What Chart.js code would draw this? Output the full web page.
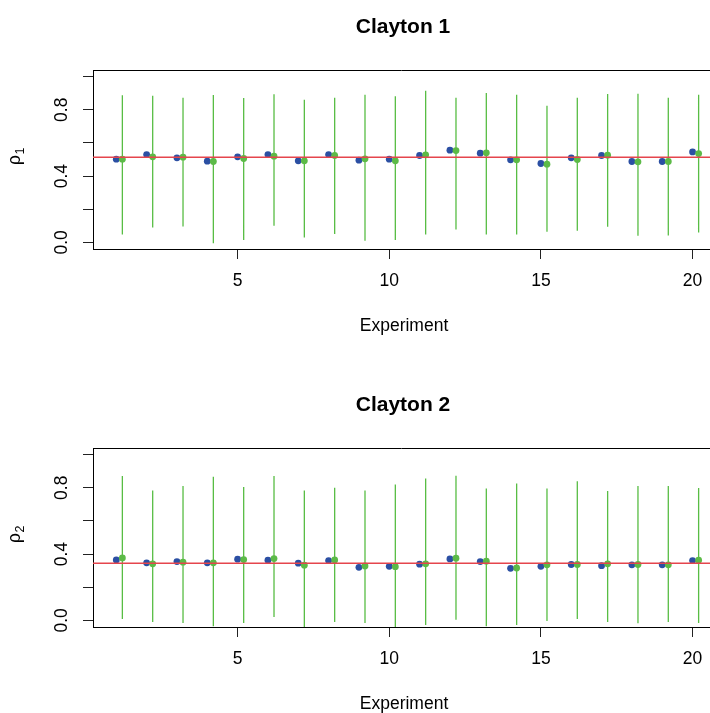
<!DOCTYPE html>
<html>
<head>
<meta charset="utf-8">
<script src="https://cdn.jsdelivr.net/npm/chart.js@4.4.1/dist/chart.umd.min.js"></script>
<style>
  html, body { margin: 0; padding: 0; background: #fff; overflow: hidden; }
  #wrap { position: relative; width: 710px; height: 713px; }
  canvas { position: absolute; left: 0; }
  #c1 { top: 0; }
  #c2 { top: 378px; }
</style>
</head>
<body>
<div id="wrap">
  <canvas id="c1" width="710" height="378"></canvas>
  <canvas id="c2" width="710" height="335"></canvas>
</div>
<script>
// ---------- data ----------
const experiments = [1,2,3,4,5,6,7,8,9,10,11,12,13,14,15,16,17,18,19,20];
const xTicks = [5, 10, 15, 20];
const yTicks = [0.0, 0.2, 0.4, 0.6, 0.8, 1.0];
const yTickLabels = ['0.0', '', '0.4', '', '0.8', ''];

const panelTitles = ['Clayton 1', 'Clayton 2'];
const xAxisTitle = 'Experiment';
const yAxisSymbols = ['ρ', 'ρ'];
const yAxisSubscripts = ['1', '2'];

const rho1True = 0.514;
const rho1Blue  = [0.502,0.530,0.510,0.490,0.516,0.530,0.492,0.530,0.496,0.502,0.524,0.556,0.538,0.498,0.476,0.510,0.524,0.488,0.488,0.546];
const rho1Green = [0.502,0.516,0.514,0.488,0.506,0.520,0.492,0.524,0.504,0.492,0.528,0.554,0.540,0.498,0.472,0.500,0.526,0.486,0.488,0.536];
const rho1Low   = [0.048,0.090,0.096,-0.006,0.014,0.100,0.030,0.050,0.010,0.014,0.048,0.078,0.048,0.048,0.064,0.070,0.094,0.040,0.042,0.060];
const rho1High  = [0.887,0.885,0.873,0.889,0.871,0.893,0.861,0.873,0.891,0.881,0.915,0.873,0.901,0.891,0.825,0.873,0.895,0.897,0.873,0.891];

const rho2True = 0.345;
const rho2Blue  = [0.365,0.347,0.355,0.347,0.369,0.363,0.345,0.361,0.320,0.326,0.339,0.371,0.355,0.314,0.326,0.337,0.330,0.335,0.335,0.361];
const rho2Green = [0.377,0.341,0.351,0.347,0.367,0.373,0.333,0.365,0.328,0.324,0.341,0.375,0.357,0.316,0.335,0.337,0.341,0.337,0.335,0.363];
const rho2Low   = [0.008,-0.010,-0.016,-0.036,-0.016,0.020,-0.050,-0.010,-0.016,-0.045,-0.028,0.004,-0.036,-0.028,-0.004,0.008,-0.010,-0.018,-0.010,-0.016];
const rho2High  = [0.871,0.784,0.810,0.867,0.804,0.871,0.784,0.800,0.784,0.820,0.856,0.873,0.796,0.826,0.796,0.840,0.780,0.810,0.810,0.798];

// ---------- styling / layout ----------
const FONT = "'Liberation Sans', Arial, Helvetica, sans-serif";
const BLUE = '#2b4fa3';
const GREEN_PT = '#5cba47';
const GREEN_LN = '#58bd44';
const RED = '#e5454d';
const X_MIN = 0.232, X_MAX = 20.575;
const Y_MIN = -0.04, Y_MAX = 1.04;
const GREEN_OFFSET = 0.2;

const rPlugin = {
  id: 'rDecor',
  afterDraw(chart, args, opts) {
    const ctx = chart.ctx;
    const a = chart.chartArea;
    ctx.save();
    // top border of the box (right side falls outside the picture)
    ctx.strokeStyle = '#000';
    ctx.lineWidth = 1;
    ctx.beginPath();
    ctx.moveTo(a.left, Math.round(a.top) + 0.5);
    ctx.lineTo(chart.width, Math.round(a.top) + 0.5);
    ctx.stroke();

    ctx.fillStyle = '#000';
    // title
    ctx.font = 'bold 21px ' + FONT;
    ctx.textAlign = 'center';
    ctx.textBaseline = 'alphabetic';
    ctx.fillText(opts.title, 403, 33);
    // x axis title
    ctx.font = '17.5px ' + FONT;
    ctx.fillText(opts.xTitle, 404, 331);
    // y axis title (rho with subscript), rotated
    ctx.translate(20, (a.top + a.bottom) / 2 - 3);
    ctx.rotate(-Math.PI / 2);
    ctx.textAlign = 'left';
    ctx.font = '17.5px ' + FONT;
    const w1 = ctx.measureText(opts.ySym).width;
    ctx.font = '12.5px ' + FONT;
    const w2 = ctx.measureText(opts.ySub).width;
    const start = -(w1 + w2) / 2;
    ctx.font = '17.5px ' + FONT;
    ctx.fillText(opts.ySym, start, 0);
    ctx.font = '12.5px ' + FONT;
    ctx.fillText(opts.ySub, start + w1 + 0.5, 3.5);
    ctx.restore();
  }
};

function makeChart(canvasId, idx, blue, green, low, high, trueVal, bottomPad) {
  const bluePts = experiments.map((e, i) => ({ x: e, y: blue[i] }));
  const greenPts = experiments.map((e, i) => ({ x: e + GREEN_OFFSET, y: green[i] }));
  const bars = [];
  experiments.forEach((e, i) => {
    bars.push({ x: e + GREEN_OFFSET, y: low[i] });
    bars.push({ x: e + GREEN_OFFSET, y: high[i] });
    bars.push({ x: e + GREEN_OFFSET, y: null });
  });
  const trueLine = [{ x: X_MIN, y: trueVal }, { x: X_MAX, y: trueVal }];

  return new Chart(document.getElementById(canvasId), {
    type: 'scatter',
    data: {
      datasets: [
        { type: 'line', data: trueLine, borderColor: RED, borderWidth: 1.4, pointRadius: 0, showLine: true, fill: false },
        { type: 'scatter', data: greenPts, backgroundColor: GREEN_PT, borderWidth: 0, pointRadius: 3.4, showLine: false },
        { type: 'line', data: bars, borderColor: GREEN_LN, borderWidth: 1.3, pointRadius: 0, showLine: true, spanGaps: false, fill: false },
        { type: 'scatter', data: bluePts, backgroundColor: BLUE, borderWidth: 0, pointRadius: 3.4, showLine: false }
      ]
    },
    options: {
      responsive: false,
      animation: false,
      events: [],
      devicePixelRatio: 1,
      layout: { autoPadding: false, padding: { left: 43, top: 70, right: 0, bottom: bottomPad } },
      plugins: {
        legend: { display: false },
        tooltip: { enabled: false },
        title: { display: false },
        rDecor: { title: panelTitles[idx], xTitle: xAxisTitle, ySym: yAxisSymbols[idx], ySub: yAxisSubscripts[idx] }
      },
      scales: {
        x: {
          type: 'linear', position: 'bottom', min: X_MIN, max: X_MAX,
          afterBuildTicks: s => { s.ticks = xTicks.map(v => ({ value: v })); },
          afterFit: s => { s.height = 50; s.paddingLeft = 0; s.paddingRight = 0; },
          grid: { drawOnChartArea: false, drawTicks: true, tickLength: 10, color: '#222', lineWidth: 1 },
          border: { display: true, color: '#000', width: 1 },
          ticks: {
            autoSkip: false, maxRotation: 0, minRotation: 0, padding: 12,
            color: '#000', font: { family: FONT, size: 17.5 },
            callback: v => String(v)
          }
        },
        y: {
          type: 'linear', position: 'left', min: Y_MIN, max: Y_MAX,
          afterBuildTicks: s => { s.ticks = yTicks.map(v => ({ value: v })); },
          afterFit: s => { s.width = 50; s.paddingTop = 0; s.paddingBottom = 0; },
          grid: { drawOnChartArea: false, drawTicks: true, tickLength: 10, color: '#222', lineWidth: 1 },
          border: { display: true, color: '#000', width: 1 },
          ticks: {
            autoSkip: false, minRotation: 90, maxRotation: 90, crossAlign: 'center', padding: 9,
            color: '#000', font: { family: FONT, size: 17.5 },
            callback: (v) => { const k = yTicks.findIndex(t => Math.abs(t - v) < 1e-9); return k >= 0 ? yTickLabels[k] : ''; }
          }
        }
      }
    },
    plugins: [rPlugin]
  });
}

makeChart('c1', 0, rho1Blue, rho1Green, rho1Low, rho1High, rho1True, 79);
makeChart('c2', 1, rho2Blue, rho2Green, rho2Low, rho2High, rho2True, 36);
</script>
</body>
</html>
